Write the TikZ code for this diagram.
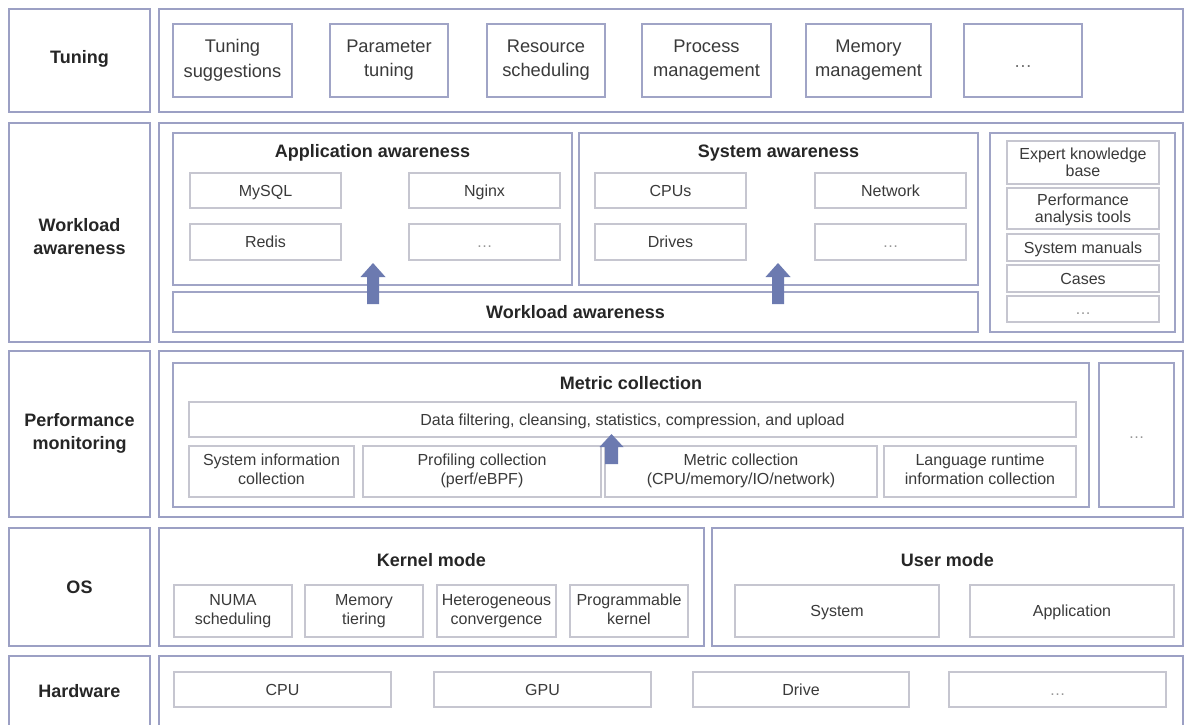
\documentclass[tikz,border=0pt]{standalone}
\usepackage{fontspec}
\setmainfont{Liberation Sans}
\definecolor{layerc}{RGB}{156,160,196}
\definecolor{midc}{RGB}{160,164,198}
\definecolor{itemc}{RGB}{198,198,208}
\definecolor{arrowc}{RGB}{108,122,176}
\definecolor{boldtxt}{RGB}{38,38,38}
\definecolor{regtxt}{RGB}{58,58,58}
\definecolor{dotc}{RGB}{150,150,150}
\definecolor{tdotc}{RGB}{110,110,110}
% strut that centres capital letters on the node centre
\newcommand\capstrut{\rule[-0.23em]{0pt}{1.18em}}
\tikzset{
  base/.style={rectangle, inner sep=0pt, outer sep=0pt, align=center,
    execute at begin node=\capstrut, execute at end node=\capstrut},
  layer/.style={base, draw=layerc, line width=2pt, fill=white},
  layertitle/.style={layer, text=boldtxt, font=\fontsize{18}{23.5}\selectfont\bfseries},
  midbox/.style={base, draw=midc, line width=1.5pt, fill=white},
  tuneitem/.style={midbox, text=regtxt, font=\fontsize{18.3}{24.5}\selectfont},
  item/.style={base, draw=itemc, line width=1.2pt, fill=white, text=regtxt, font=\fontsize{16}{19}\selectfont},
  kbitem/.style={item, font=\fontsize{16}{16.5}\selectfont},
  heading/.style={base, text=boldtxt, font=\fontsize{18}{23.5}\selectfont\bfseries},
  blockarrow/.style={fill=arrowc, draw=none},
}
% box from its corners: style, name, x1, y1, x2, y2, text
\newcommand\bx[7]{\node[#1, minimum width={(#5-#3)*1pt}, minimum height={(#6-#4)*1pt}] (#2) at ({(#3+#5)/2},{(#4+#6)/2}) {#7};}
% upward block arrow: name of its foot, centre x, tip y, head base y, foot y, head half width, shaft half width
\newcommand\blockup[7]{%
  \coordinate (#1) at (#2,#5);
  \fill[blockarrow] (#1) ++(-#7,0) -- ({#2-#7},#4) -- ({#2-#6},#4) -- (#2,#3) -- ({#2+#6},#4) -- ({#2+#7},#4) -- ({#2+#7},#5) -- cycle;}
\begin{document}
\begin{tikzpicture}[x=1pt, y=-1pt]
\useasboundingbox[fill=white] (0,0) rectangle (1186,724);

% ---- Tuning layer
\bx{layer}{lTun}{9}{9}{150}{112}{}
\node[heading] (lTunT) at (79.5,57) {Tuning};
\bx{layer}{cTun}{159}{9}{1183}{112}{}
\bx{tuneitem}{tSug}{173}{24}{292}{97}{Tuning\\suggestions}
\bx{tuneitem}{tPar}{330}{24}{448}{97}{Parameter\\tuning}
\bx{tuneitem}{tRes}{487}{24}{605}{97}{Resource\\scheduling}
\bx{tuneitem}{tPro}{642}{24}{771}{97}{Process\\management}
\bx{tuneitem}{tMem}{806}{24}{931}{97}{Memory\\management}
\bx{tuneitem}{tMore}{964}{24}{1082}{97}{\textcolor{tdotc}{…}}

% ---- Workload awareness layer
\bx{layer}{lWl}{9}{123}{150}{342}{}
\node[heading] (lWlT) at (79.5,238.5) {Workload\\awareness};
\bx{layer}{cWl}{159}{123}{1183}{342}{}
\bx{midbox}{app}{173}{133}{572}{285}{}
\node[heading] (appT) at (372.5,151) {Application awareness};
\bx{item}{mysql}{190}{173}{341}{208}{MySQL}
\bx{item}{nginx}{409}{173}{560}{208}{Nginx}
\bx{item}{redis}{190}{224}{341}{260}{Redis}
\bx{item}{appMore}{409}{224}{560}{260}{\textcolor{dotc}{…}}
\bx{midbox}{sys}{579}{133}{978}{285}{}
\node[heading] (sysT) at (778.5,151) {System awareness};
\bx{item}{cpus}{595}{173}{746}{208}{CPUs}
\bx{item}{net}{815}{173}{966}{208}{Network}
\bx{item}{drives}{595}{224}{746}{260}{Drives}
\bx{item}{sysMore}{815}{224}{966}{260}{\textcolor{dotc}{…}}
\bx{midbox}{wlbar}{173}{292}{978}{332}{}
\node[heading] (wlT) at (575.5,312) {Workload awareness};
\bx{midbox}{know}{990}{133}{1175}{332}{}
\bx{kbitem}{kExp}{1007}{141}{1159}{184}{}
\node[kbitem, draw=none, fill=none] (kExpT) at (1083,164) {Expert knowledge\\base};
\bx{kbitem}{kPerf}{1007}{188}{1159}{229}{}
\node[kbitem, draw=none, fill=none] (kPerfT) at (1083,210) {Performance\\analysis tools};
\bx{kbitem}{kMan}{1007}{234}{1159}{261}{System manuals}
\bx{kbitem}{kCase}{1007}{265}{1159}{292}{Cases}
\bx{kbitem}{kMore}{1007}{296}{1159}{322}{\textcolor{dotc}{…}}
\blockup{aApp}{373}{263}{277}{304}{12.5}{6}
\blockup{aSys}{778}{263}{277}{304}{12.5}{6}

% ---- Performance monitoring layer
\bx{layer}{lPm}{9}{351}{150}{517}{}
\node[heading] (lPmT) at (79.5,433.5) {Performance\\monitoring};
\bx{layer}{cPm}{159}{351}{1183}{517}{}
\bx{midbox}{metric}{173}{363}{1089}{507}{}
\node[heading] (metricT) at (631,383) {Metric collection};
\bx{item}{dataBar}{189}{402}{1076}{437}{Data filtering, cleansing, statistics, compression, and upload}
\bx{item}{mSys}{189}{446}{354}{497}{System information\\collection}
\bx{item}{mProf}{363}{446}{601}{497}{Profiling collection\\(perf/eBPF)}
\bx{item}{mMet}{605}{446}{877}{497}{Metric collection\\(CPU/memory/IO/network)}
\bx{item}{mLang}{884}{446}{1076}{497}{Language runtime\\information collection}
\bx{midbox}{pmMore}{1099}{363}{1174}{507}{\textcolor{dotc}{\fontsize{16}{19}\selectfont …}}
\blockup{aMet}{611.5}{434}{447}{464}{12}{6.5}

% ---- OS layer
\bx{layertitle}{lOs}{9}{528}{150}{646}{OS}
\bx{layer}{kernel}{159}{528}{704}{646}{}
\node[heading] (kernelT) at (431.5,560) {Kernel mode};
\bx{item}{kNuma}{174}{585}{292}{637}{NUMA\\scheduling}
\bx{item}{kMemT}{305}{585}{423}{637}{Memory\\tiering}
\bx{item}{kHet}{437}{585}{556}{637}{Heterogeneous\\convergence}
\bx{item}{kProg}{570}{585}{688}{637}{Programmable\\kernel}
\bx{layer}{user}{712}{528}{1183}{646}{}
\node[heading] (userT) at (947.5,560) {User mode};
\bx{item}{uSys}{735}{585}{939}{637}{System}
\bx{item}{uApp}{970}{585}{1174}{637}{Application}

% ---- Hardware layer (runs off the lower edge)
\bx{layer}{lHw}{9}{656}{150}{740}{}
\node[heading] (hwT) at (79.5,691) {Hardware};
\bx{layer}{cHw}{159}{656}{1183}{740}{}
\bx{item}{hCpu}{174}{672}{391}{707}{CPU}
\bx{item}{hGpu}{434}{672}{651}{707}{GPU}
\bx{item}{hDrv}{693}{672}{909}{707}{Drive}
\bx{item}{hMore}{949}{672}{1166}{707}{\textcolor{dotc}{…}}
\end{tikzpicture}
\end{document}
